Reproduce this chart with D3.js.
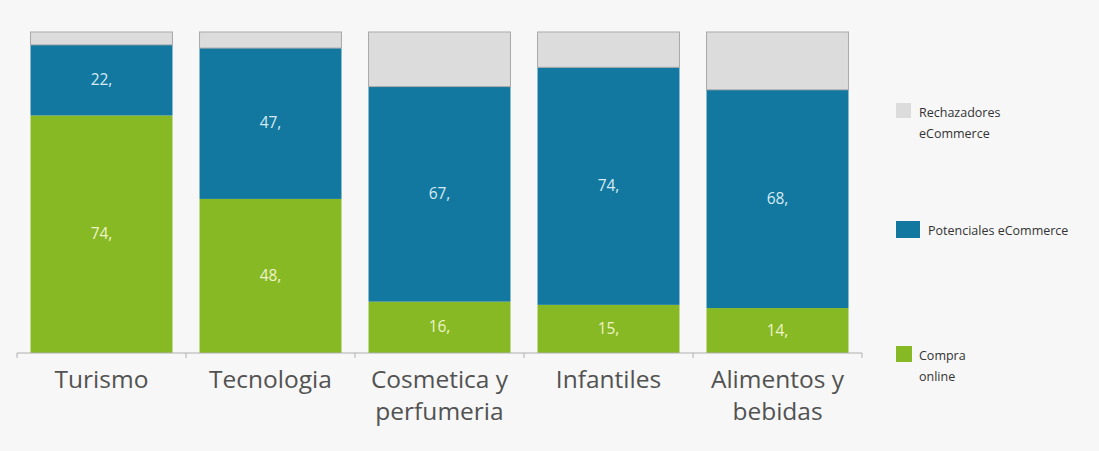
<!DOCTYPE html>
<html>
<head>
<meta charset="utf-8">
<script src="https://cdn.jsdelivr.net/npm/d3@7"></script>
<style>
  body { margin: 0; background: #f7f7f7; }
  svg { display: block; }
  .cat { font-family: "Open Sans", sans-serif; font-size: 24.5px; fill: #525252; }
  .val { font-family: "Open Sans", sans-serif; font-size: 15.5px; }
  .leg { font-family: "Open Sans", sans-serif; font-size: 12.5px; fill: #333; }
</style>
</head>
<body>
<div class="content"></div>
<script>
var width = 1099, height = 451;

var categories = [["Turismo"], ["Tecnologia"], ["Cosmetica y", "perfumeria"], ["Infantiles"], ["Alimentos y", "bebidas"]];
var compra = [74, 48, 16, 15, 14];
var potenciales = [22, 47, 67, 74, 68];
var rechazadores = [4, 5, 17, 11, 18];

var seriesNames = ["compra", "potenciales", "rechazadores"];
var colors = { compra: "#87b925", potenciales: "#13789f", rechazadores: "#dcdcdc" };
var labelColors = { compra: "#eef3c8", potenciales: "#d6ebf3" };

var rows = categories.map(function (c, i) {
  return { key: i, compra: compra[i], potenciales: potenciales[i], rechazadores: rechazadores[i] };
});

var x = d3.scaleBand()
  .domain(d3.range(categories.length))
  .range([17, 862])
  .paddingInner(0.16)
  .paddingOuter(0.08);

var y = d3.scaleLinear()
  .domain([0, 100])
  .range([353, 32]);

var stack = d3.stack().keys(seriesNames);
var stacked = stack(rows);

var svg = d3.select(".content").append("svg")
  .attr("width", width)
  .attr("height", height);

var layer = svg.selectAll(".layer")
  .data(stacked)
  .enter().append("g")
  .attr("class", "layer")
  .attr("fill", function (d) { return colors[d.key]; });

layer.selectAll("rect")
  .data(function (d) { return d; })
  .enter().append("rect")
  .attr("x", function (d, i) { return x(i); })
  .attr("width", x.bandwidth())
  .attr("y", function (d) { return y(d[1]); })
  .attr("height", function (d) { return y(d[0]) - y(d[1]); })
  .attr("stroke", function () {
    return d3.select(this.parentNode).datum().key === "rechazadores" ? "#a9a9a9" : "none";
  })
  .attr("stroke-width", 1);

// value labels (not for rechazadores)
stacked.forEach(function (s) {
  if (s.key === "rechazadores") return;
  svg.append("g").selectAll("text")
    .data(s)
    .enter().append("text")
    .attr("class", "val")
    .attr("x", function (d, i) { return x(i) + x.bandwidth() / 2; })
    .attr("y", function (d) { return (y(d[0]) + y(d[1])) / 2 + 5; })
    .attr("text-anchor", "middle")
    .attr("fill", labelColors[s.key])
    .text(function (d) { return (d[1] - d[0]) + ","; });
});

// axis
var axisG = svg.append("g").attr("transform", "translate(0," + y(0) + ")");
axisG.append("line")
  .attr("x1", 17).attr("x2", 862)
  .attr("stroke", "#b0b0b0").attr("stroke-width", 1.2);
var edges = d3.range(categories.length + 1).map(function (i) {
  return i < categories.length ? x(i) - x.step() * x.paddingInner() / 2 : 862;
});
edges[0] = 17;
axisG.selectAll(".tick")
  .data(edges)
  .enter().append("line")
  .attr("x1", function (d) { return d; })
  .attr("x2", function (d) { return d; })
  .attr("y1", 0).attr("y2", 5)
  .attr("stroke", "#b0b0b0");

var catG = svg.append("g").selectAll("text")
  .data(categories)
  .enter().append("text")
  .attr("class", "cat")
  .attr("text-anchor", "middle")
  .attr("x", function (d, i) { return x(i) + x.bandwidth() / 2; })
  .attr("y", 388);
catG.selectAll("tspan")
  .data(function (d) { return d; })
  .enter().append("tspan")
  .attr("x", function () { return d3.select(this.parentNode).attr("x"); })
  .attr("dy", function (d, i) { return i === 0 ? 0 : 32; })
  .text(function (d) { return d; });

// legend
var legendItems = [
  { key: "rechazadores", lines: ["Rechazadores", "eCommerce"], y: 103, size: 15, tx: 919 },
  { key: "potenciales", lines: ["Potenciales eCommerce"], y: 221, size: 20, tx: 928 },
  { key: "compra", lines: ["Compra", "online"], y: 346, size: 16, tx: 919 }
];
var leg = svg.append("g").selectAll("g")
  .data(legendItems)
  .enter().append("g");
leg.append("rect")
  .attr("x", 896)
  .attr("y", function (d) { return d.y; })
  .attr("width", function (d) { return d.key === "potenciales" ? 24 : d.size; })
  .attr("height", function (d) { return d.key === "potenciales" ? 17 : d.size; })
  .attr("fill", function (d) { return colors[d.key]; });
leg.each(function (d) {
  var t = d3.select(this).append("text")
    .attr("class", "leg")
    .attr("x", d.tx)
    .attr("y", d.y + 14);
  t.selectAll("tspan")
    .data(d.lines)
    .enter().append("tspan")
    .attr("x", d.tx)
    .attr("dy", function (l, i) { return i === 0 ? 0 : 21; })
    .text(function (l) { return l; });
});
</script>
</body>
</html>
